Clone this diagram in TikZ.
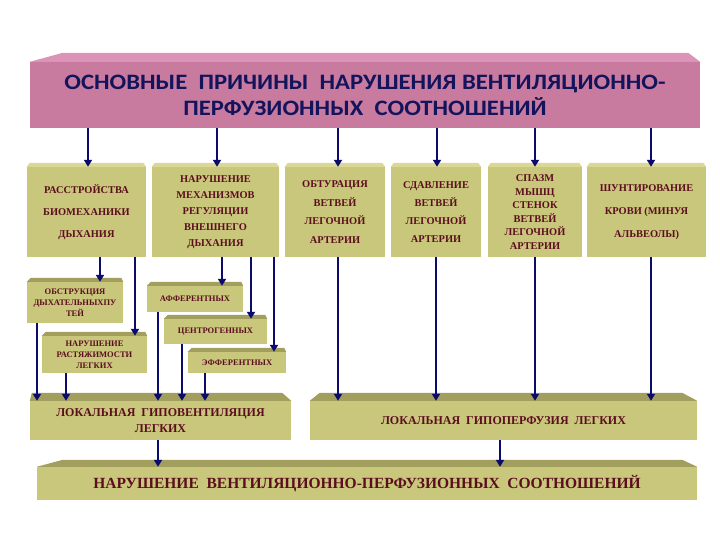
\documentclass[tikz,border=0pt]{standalone}
\usepackage{fontspec}
\setmainfont{Liberation Serif}
\newfontfamily\headfont[FakeStretch=1.12]{Carlito}
\usetikzlibrary{arrows.meta,calc}
\definecolor{khaki}{HTML}{C9C77C}
\definecolor{khakilight}{HTML}{DAD894}
\definecolor{khakidark}{HTML}{A29E5E}
\definecolor{rose}{HTML}{C97B9F}
\definecolor{roselight}{HTML}{DB94B8}
\definecolor{navy}{HTML}{14145C}
\definecolor{wine}{HTML}{5C0E1E}
\definecolor{flowblue}{HTML}{0B0B6B}
\newcommand{\bevel}[5]{%
  \fill[#5] (#1.north west) -- ++(#2,-#4) -- ($(#1.north east)+(-#3,-#4)$)
    -- (#1.north east) -- cycle;}
\tikzset{
  >={Triangle[length=7pt,width=8pt]},
  flow/.style={->,line width=2.9pt,draw=flowblue},
  face/.style={fill=khaki,inner sep=0pt,align=center,text=wine},
  titlebox/.style={fill=rose,inner sep=0pt,align=center,text=navy,
                   minimum width=670pt,minimum height=66pt,
                   font=\headfont\fontsize{22}{26}\selectfont\bfseries},
  causebox/.style={face,minimum height=90pt,
                   font=\fontsize{10.4}{#1}\selectfont\bfseries},
  subbox/.style={face,font=\fontsize{8.5}{11}\selectfont\bfseries},
  lowbox/.style={face,minimum height=39pt,
                 font=\fontsize{12}{16}\selectfont\bfseries}
}
\begin{document}
\begin{tikzpicture}[x=1pt,y=-1pt]
  \useasboundingbox (0,0) rectangle (720,540);
  % heading
  \node[titlebox] (title) at (365,95)
    {ОСНОВНЫЕ~~ПРИЧИНЫ~~НАРУШЕНИЯ ВЕНТИЛЯЦИОННО-\\ПЕРФУЗИОННЫХ~~СООТНОШЕНИЙ};
  \bevel{title}{33}{12}{9}{roselight}

  % causes
  \node[causebox=22,minimum width=119pt] (c1) at (86.5,212)
    {РАССТРОЙСТВА\\БИОМЕХАНИКИ\\ДЫХАНИЯ};
  \node[causebox=16,minimum width=127pt] (c2) at (215.5,212)
    {НАРУШЕНИЕ\\МЕХАНИЗМОВ\\РЕГУЛЯЦИИ\\ВНЕШНЕГО\\ДЫХАНИЯ};
  \node[causebox=18.5,minimum width=100pt] (c3) at (335,212)
    {ОБТУРАЦИЯ\\ВЕТВЕЙ\\ЛЕГОЧНОЙ\\АРТЕРИИ};
  \node[causebox=18,minimum width=90pt] (c4) at (436,212)
    {СДАВЛЕНИЕ\\ВЕТВЕЙ\\ЛЕГОЧНОЙ\\АРТЕРИИ};
  \node[causebox=13.5,minimum width=94pt] (c5) at (535,212)
    {СПАЗМ\\МЫШЦ\\СТЕНОК\\ВЕТВЕЙ\\ЛЕГОЧНОЙ\\АРТЕРИИ};
  \node[causebox=23,minimum width=119pt] (c6) at (646.5,212)
    {ШУНТИРОВАНИЕ\\КРОВИ (МИНУЯ\\АЛЬВЕОЛЫ)};
  \foreach \n in {c1,c2,c3,c4,c5,c6}
    \bevel{\n}{3}{3}{4}{khakilight};
  \foreach \n/\dx in {c1/1.5,c2/1.5,c3/3,c4/1,c5/0,c6/4.5}
    \draw[flow] ($(\n.north |- title.south)+(\dx,0)$) -- ($(\n.north)+(\dx,0)$);

  % subdivisions
  \node[subbox,minimum width=96pt,minimum height=41pt] (obstr) at (75,302.5)
    {ОБСТРУКЦИЯ\\ДЫХАТЕЛЬНЫХПУ\\ТЕЙ};
  \node[subbox,minimum width=105pt,minimum height=37pt] (stretch) at (94.5,354.5)
    {НАРУШЕНИЕ\\РАСТЯЖИМОСТИ\\ЛЕГКИХ};
  \node[subbox,minimum width=96pt,minimum height=26pt] (aff) at (195,299)
    {АФФЕРЕНТНЫХ};
  \node[subbox,minimum width=103pt,minimum height=25pt] (centr) at (215.5,331.5)
    {ЦЕНТРОГЕННЫХ};
  \node[subbox,minimum width=98pt,minimum height=21pt] (eff) at (237,362.5)
    {ЭФФЕРЕНТНЫХ};
  \foreach \n in {obstr,stretch,aff,centr,eff}
    \bevel{\n}{4}{2}{4}{khakidark};
  \foreach \s/\t/\dx in {c1/obstr/25,c1/stretch/40.5,c2/aff/27,c2/centr/35.5,c2/eff/37}
    \draw[flow] ($(\t.north |- \s.south)+(\dx,0)$) -- ($(\t.north)+(\dx,0)$);

  % consequences
  \node[lowbox,minimum width=261pt] (hypovent) at (160.5,420.5)
    {ЛОКАЛЬНАЯ~~ГИПОВЕНТИЛЯЦИЯ\\ЛЕГКИХ};
  \node[lowbox,minimum width=387pt] (hypoperf) at (503.5,420.5)
    {ЛОКАЛЬНАЯ~~ГИПОПЕРФУЗИЯ~~ЛЕГКИХ};
  \node[face,minimum width=660pt,minimum height=33pt,
        font=\fontsize{15.5}{20}\selectfont\bfseries] (result) at (367,483.5)
    {НАРУШЕНИЕ~~ВЕНТИЛЯЦИОННО-ПЕРФУЗИОННЫХ~~СООТНОШЕНИЙ};
  \bevel{hypovent}{2}{9}{8}{khakidark}
  \bevel{hypoperf}{10}{15}{8}{khakidark}
  \bevel{result}{26}{15}{7}{khakidark}
  \foreach \s/\dx in {obstr/-38,stretch/-28.5,aff/-37,centr/-33.5,eff/-32}
    \draw[flow] ($(\s.south)+(\dx,0)$) -- ($(\s.south |- hypovent.north)+(\dx,0)$);
  \foreach \s/\dx in {c3/3,c4/0,c5/0,c6/4.5}
    \draw[flow] ($(\s.south)+(\dx,0)$) -- ($(\s.south |- hypoperf.north)+(\dx,0)$);
  \draw[flow] ($(hypovent.south)+(-2.5,0)$) -- ($(hypovent.south |- result.north)+(-2.5,0)$);
  \draw[flow] ($(hypoperf.south)+(-3.5,0)$) -- ($(hypoperf.south |- result.north)+(-3.5,0)$);
\end{tikzpicture}
\end{document}
